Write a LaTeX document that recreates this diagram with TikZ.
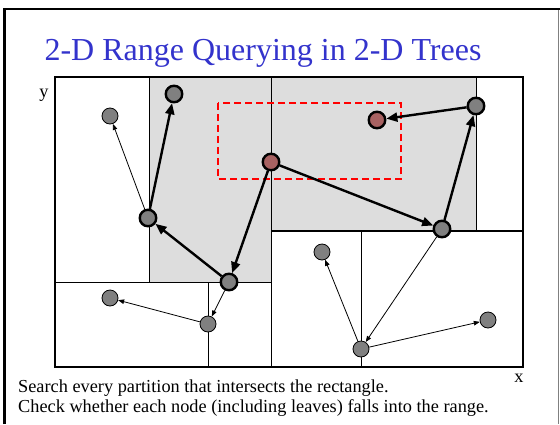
\documentclass[tikz,border=0pt]{standalone}
\usepackage{fontspec}
\setmainfont{Liberation Serif}
\usetikzlibrary{arrows.meta}
\definecolor{titleblue}{RGB}{51,51,204}
\definecolor{cellgray}{RGB}{221,221,221}
\definecolor{nodegray}{RGB}{128,128,128}
\definecolor{hitred}{RGB}{168,98,98}
\tikzset{
	visited/.style={circle, draw, line width=2.4pt, fill=nodegray, minimum size=16.5pt, inner sep=0pt},
	unvisited/.style={circle, draw, line width=0.8pt, fill=nodegray, minimum size=16pt, inner sep=0pt},
	found/.style={visited, fill=hitred},
	search/.style={line width=2.4pt, -{Triangle[length=11pt,width=9pt]}},
	pass/.style={line width=0.8pt, -{Triangle[length=6pt,width=4.5pt]}},
	split/.style={line width=1pt},
	txt/.style={font=\fontsize{18.3}{20}\selectfont, inner sep=0pt},
}
\begin{document}
\begin{tikzpicture}[x=1pt,y=-1pt]
	\useasboundingbox (0,0) rectangle (560,424);
	% Slide frame
	\draw [line width=2.5pt] (4.5,424) -- (4.5,9) -- (560,9);
	\draw [gray, line width=1pt] (558,10) -- (558,424);
	% Title
	\node [titleblue, font=\fontsize{32}{36}\selectfont, anchor=base, inner sep=0pt] (title) at (263,60) {2-D Range Querying in 2-D Trees};
	% Cells searched
	\fill [cellgray] (149,77) rectangle (271,282);
	\fill [cellgray] (271,77) rectangle (476,231);
	% Partitions
	\draw [split] (271,77) -- (271,367);
	\draw [split] (55,282) -- (271,282);
	\draw [split] (149,77) -- (149,282);
	\draw [split] (208,282) -- (208,367);
	\draw [split, line width=1.4pt] (271,231) -- (523,231);
	\draw [split] (476,77) -- (476,231);
	\draw [split] (361,231) -- (361,367);
	\draw [line width=2pt] (55,77) rectangle (523,367);
	% Query range
	\draw [red, dashed, dash pattern=on 7pt off 4pt, line width=1.6pt] (218,103) rectangle (401,179);
	% Axes
	\node [txt] (ylab) at (44,95) {y};
	\node [txt] (xlab) at (519,378) {x};
	% Tree nodes
	\node [found] (root) at (271,162) {};
	\node [visited] (l) at (229,282) {};
	\node [visited] (ll) at (148,218) {};
	\node [visited] (llr) at (174,94) {};
	\node [unvisited] (lll) at (110,116) {};
	\node [unvisited] (lr) at (208,324) {};
	\node [unvisited] (lrl) at (110,298) {};
	\node [visited] (r) at (442,229) {};
	\node [visited] (rr) at (476,106) {};
	\node [found] (rrl) at (377,120) {};
	\node [unvisited] (rl) at (361,349) {};
	\node [unvisited] (rll) at (322,252) {};
	\node [unvisited] (rlr) at (488,320) {};
	% Search path
	\draw [search] (root) -- (l);
	\draw [search] (l) -- (ll);
	\draw [search] (ll) -- (llr);
	\draw [search] (root) -- (r);
	\draw [search] (r) -- (rr);
	\draw [search] (rr) -- (rrl);
	\draw [pass] (ll) -- (lll);
	\draw [pass] (l) -- (lr);
	\draw [pass] (lr) -- (lrl);
	\draw [pass] (r) -- (rl);
	\draw [pass] (rl) -- (rll);
	\draw [pass] (rl) -- (rlr);
	% Notes
	\node [txt, anchor=base west] (note1) at (18,392) {Search every partition that intersects the rectangle.};
	\node [txt, anchor=base west] (note2) at (18,412) {Check whether each node (including leaves) falls into the range.};
\end{tikzpicture}
\end{document}
